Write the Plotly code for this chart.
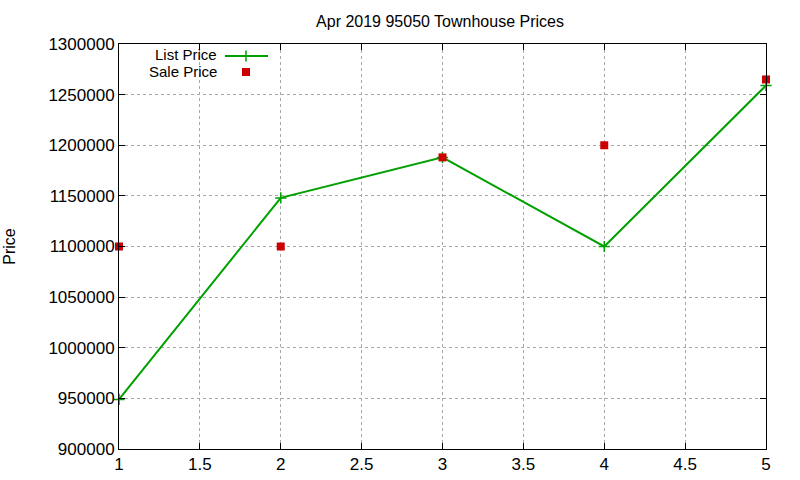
import plotly.graph_objects as go

x_vals = [1, 2, 3, 4, 5]
list_price = [949000, 1148000, 1188000, 1100000, 1259000]
sale_price = [1100000, 1100000, 1188000, 1200000, 1265000]
title = "Apr 2019 95050 Townhouse Prices"
y_title = "Price"

GREEN = "#00a000"
RED = "#cc0000"
FONT = "Liberation Sans, Arial, sans-serif"

L, R, T, B = 119, 34, 44, 31
W, H = 800, 480
pw, ph = W - L - R, H - T - B

def px(x):
    return (x - L) / pw

def py(y):
    return (H - B - y) / ph

fig = go.Figure()
fig.add_trace(go.Scatter(x=x_vals, y=list_price, mode="lines+markers", name="List Price",
                         line=dict(color=GREEN, width=2),
                         marker=dict(symbol="cross-thin", size=8, line=dict(color=GREEN, width=1.5)),
                         showlegend=False, cliponaxis=False))
fig.add_trace(go.Scatter(x=x_vals, y=sale_price, mode="markers", name="Sale Price",
                         marker=dict(symbol="square", size=8, color=RED),
                         showlegend=False, cliponaxis=False))

# custom gnuplot-style legend (sample to the right of the text)
fig.add_trace(go.Scatter(x=[px(225), px(268)], y=[py(56), py(56)], xaxis="x2", yaxis="y2",
                         mode="lines", line=dict(color=GREEN, width=2), showlegend=False, hoverinfo="skip"))
fig.add_trace(go.Scatter(x=[px(246)], y=[py(56)], xaxis="x2", yaxis="y2", mode="markers",
                         marker=dict(symbol="cross-thin", size=8, line=dict(color=GREEN, width=1.5)),
                         showlegend=False, hoverinfo="skip"))
fig.add_trace(go.Scatter(x=[px(246)], y=[py(72)], xaxis="x2", yaxis="y2", mode="markers",
                         marker=dict(symbol="square", size=8, color=RED),
                         showlegend=False, hoverinfo="skip"))

for txt, yy in (("List Price", 55), ("Sale Price", 71)):
    fig.add_annotation(text=txt, xref="paper", yref="paper", x=px(219), y=py(yy),
                       xanchor="right", yanchor="middle", showarrow=False,
                       font=dict(family=FONT, size=15, color="black"))

axis_common = dict(showline=True, linecolor="black", linewidth=1, mirror="allticks",
                   ticks="inside", ticklen=6, tickcolor="black",
                   showgrid=True, gridcolor="#a8a8a8", griddash="dot", gridwidth=1,
                   zeroline=False, automargin=False,
                   tickfont=dict(family=FONT, size=17, color="black"))

fig.update_layout(
    width=W, height=H,
    margin=dict(l=L, r=R, t=T, b=B, autoexpand=False),
    paper_bgcolor="white", plot_bgcolor="white",
    title=dict(text=title, xref="container", x=440 / W, xanchor="center",
               yref="container", y=1 - 21 / H, yanchor="middle",
               font=dict(family=FONT, size=16, color="black")),
    xaxis=dict(range=[1, 5], dtick=0.5, tick0=1, **axis_common),
    yaxis=dict(range=[900000, 1300000], dtick=50000, tickformat="d",
               title=dict(text=y_title, font=dict(family=FONT, size=16, color="black"), standoff=28),
               **axis_common),
    xaxis2=dict(range=[0, 1], overlaying="x", visible=False),
    yaxis2=dict(range=[0, 1], overlaying="y", visible=False),
)

fig.write_html("out.html")
